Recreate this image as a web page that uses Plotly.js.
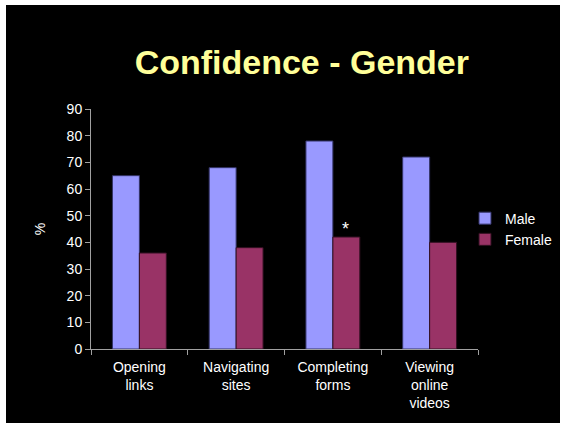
<!DOCTYPE html>
<html>
<head>
<meta charset="utf-8">
<script src="https://cdn.plot.ly/plotly-3.0.1.min.js"></script>
<style>
html,body{margin:0;padding:0;background:#ffffff;width:561px;height:423px;overflow:hidden;}
#chart{position:absolute;left:6px;top:5px;width:554px;height:418px;}
</style>
</head>
<body>
<div id="chart"></div>
<script>
var categories = ["Opening<br>links", "Navigating<br>sites", "Completing<br>forms", "Viewing<br>online<br>videos"];
var maleValues = [65, 68, 78, 72];
var femaleValues = [36, 38, 42, 40];
var yTicks = [0, 10, 20, 30, 40, 50, 60, 70, 80, 90];
var starIndex = 2;

var font = "Liberation Sans, Arial, Helvetica, sans-serif";

var traces = [
  {type: "bar", name: "Male", x: categories, y: maleValues,
   marker: {color: "#9999FF", line: {color: "#333366", width: 1}}},
  {type: "bar", name: "Female", x: categories, y: femaleValues,
   marker: {color: "#993366", line: {color: "#331122", width: 1}}}
];

var layout = {
  width: 554, height: 418,
  paper_bgcolor: "#000000", plot_bgcolor: "#000000",
  margin: {l: 85, r: 82, t: 104, b: 74, autoexpand: false},
  font: {family: font, color: "#ffffff", size: 14},
  title: {text: "<b>Confidence - Gender</b>", font: {family: font, size: 34, color: "#FFFF99"},
          x: 0.534, xanchor: "center", y: 0.864, yanchor: "middle", yref: "container"},
  barmode: "group", bargap: 0.443, bargroupgap: 0,
  showlegend: true,
  legend: {xref: "container", yref: "container", x: 0.8285, xanchor: "left", y: 0.464, yanchor: "middle",
           font: {size: 14, color: "#ffffff"}, bgcolor: "rgba(0,0,0,0)", itemwidth: 30, tracegroupgap: 0},
  xaxis: {type: "category", showline: true, linecolor: "#A0A0A0", linewidth: 1,
          ticks: "outside", tickson: "boundaries", ticklen: 5, tickcolor: "#A0A0A0",
          ticklabelstandoff: 5,
          tickfont: {size: 14, color: "#ffffff"}, showgrid: false, zeroline: false},
  yaxis: {range: [0, 90], tickvals: yTicks, showline: true, linecolor: "#A0A0A0", linewidth: 1,
          ticks: "outside", ticklen: 5, tickcolor: "#A0A0A0", showgrid: false, zeroline: false,
          tickfont: {size: 14, color: "#ffffff"},
          title: {text: "%", font: {size: 14, color: "#ffffff"}, standoff: 17}},
  annotations: [{x: categories[starIndex], y: femaleValues[starIndex], xref: "x", yref: "y",
                 text: "*", showarrow: false, xshift: 13, yanchor: "bottom", yshift: -4,
                 font: {size: 18, color: "#ffffff"}}]
};

Plotly.newPlot("chart", traces, layout, {displayModeBar: false, staticPlot: true});
</script>
</body>
</html>
